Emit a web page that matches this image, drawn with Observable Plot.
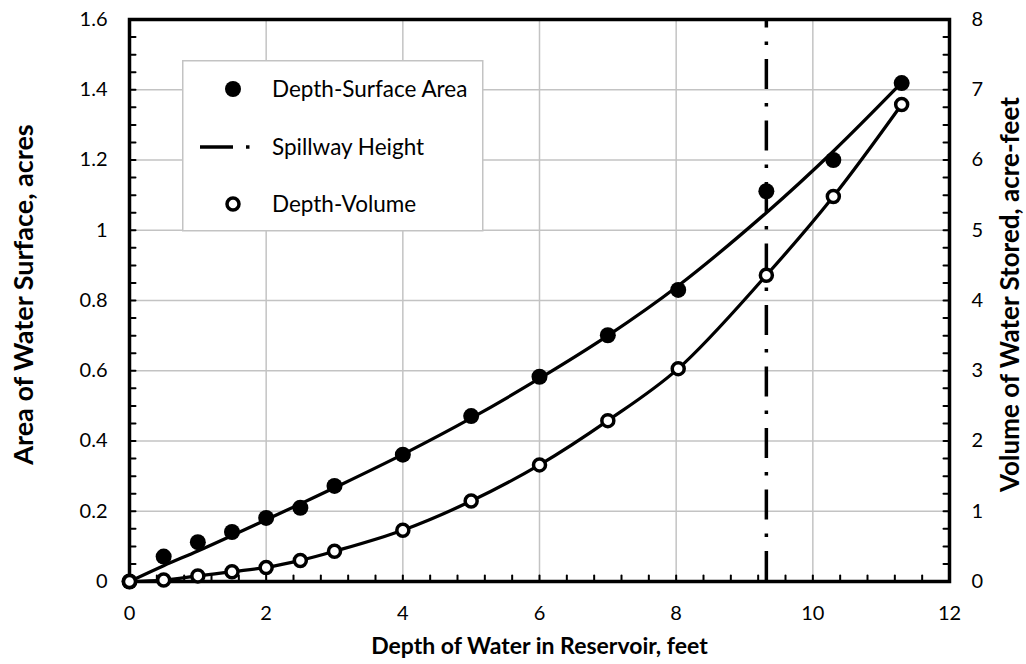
<!DOCTYPE html>
<html>
<head>
<meta charset="utf-8">
<script src="https://cdn.jsdelivr.net/npm/d3@7"></script>
<script src="https://cdn.jsdelivr.net/npm/@observablehq/plot@0.6"></script>
<style>
  body { margin: 0; background: #fff; }
  #wrap { position: relative; width: 1026px; height: 664px; font-family: Lato, "Open Sans", sans-serif; }
  #wrap svg { display: block; }
  #legend { position: absolute; left: 0; top: 0; pointer-events: none; }
</style>
</head>
<body>
<div id="wrap"></div>
<script>
// ---- data ----
const depth        = [0, 0.5, 1, 1.5, 2, 2.5, 3, 4, 5, 6, 7, 8.03, 9.32, 10.3, 11.3];
const surfaceArea  = [0, 0.071, 0.112, 0.141, 0.181, 0.21, 0.272, 0.361, 0.471, 0.583, 0.701, 0.83, 1.111, 1.2, 1.419];
const volumeStored = [0, 0.02, 0.08, 0.14, 0.2, 0.3, 0.43, 0.73, 1.145, 1.66, 2.29, 3.03, 4.36, 5.48, 6.79];
const areaTrend    = [0, 0.045, 0.087, 0.131, 0.176, 0.221, 0.267, 0.362, 0.465, 0.578, 0.7, 0.842, 1.05, 1.225, 1.42];
const spillwayDepth = [9.32];

const xTicks = [0, 2, 4, 6, 8, 10, 12];
const areaTicks = [0, 0.2, 0.4, 0.6, 0.8, 1, 1.2, 1.4, 1.6];
const volumeTicks = [0, 1, 2, 3, 4, 5, 6, 7, 8];

const xTitle = "Depth of Water in Reservoir, feet";
const yLeftTitle = "Area of Water Surface, acres";
const yRightTitle = "Volume of Water Stored, acre-feet";
const legendLabels = ["Depth-Surface Area", "Spillway Height", "Depth-Volume"];

// shared vertical scale: left axis 0–1.6 acres, right axis 0–8 acre-feet
const volToArea = 1.6 / 8;

const rows = depth.map((d, i) => ({
  depth: d, area: surfaceArea[i], vol: volumeStored[i], trend: areaTrend[i]
}));

const minorX = d3.range(0, 12.0001, 0.4);
const minorY = d3.range(0, 1.6001, 0.05);

const tickShape = { draw(ctx, l) { ctx.moveTo(0, 0); ctx.lineTo(0, -l); } };
const fmtArea = d => String(+d.toFixed(1));
const grid = { stroke: "#c3c3c3", strokeOpacity: 1, strokeWidth: 1.5 };
const FONT = "Lato, 'Open Sans', sans-serif";

const chart = Plot.plot({
  width: 1026,
  height: 664,
  marginLeft: 129,
  marginRight: 77,
  marginTop: 19,
  marginBottom: 83,
  style: { fontFamily: FONT, fontSize: "20px", color: "black", background: "white" },
  x: { domain: [0, 12] },
  y: { domain: [0, 1.6] },
  marks: [
    Plot.gridX(xTicks, grid),
    Plot.gridY(areaTicks, grid),
    Plot.axisX(xTicks, { tickSize: 0, tickPadding: 24, label: null, fontSize: 20 }),
    Plot.axisY(areaTicks, { anchor: "left", tickSize: 0, tickPadding: 22, tickFormat: fmtArea, label: null, fontSize: 20 }),
    Plot.axisY(volumeTicks.map(v => v * volToArea), {
      anchor: "right", tickSize: 0, tickPadding: 22,
      tickFormat: d => String(Math.round(d / volToArea)), label: null, fontSize: 20
    }),
    // inward minor ticks
    Plot.vector(minorX, { x: d => d, frameAnchor: "bottom", rotate: 0, length: 6, anchor: "start", shape: tickShape, stroke: "black", strokeWidth: 2 }),
    Plot.vector(minorY, { y: d => d, frameAnchor: "left", rotate: 90, length: 6, anchor: "start", shape: tickShape, stroke: "black", strokeWidth: 2 }),
    Plot.vector(minorY, { y: d => d, frameAnchor: "right", rotate: -90, length: 6, anchor: "start", shape: tickShape, stroke: "black", strokeWidth: 2 }),
    Plot.frame({ stroke: "black", strokeWidth: 3.5 }),
    // axis titles
    Plot.text([xTitle], { text: d => d, frameAnchor: "bottom", textAnchor: "middle", dy: 56, lineAnchor: "top", fontWeight: "bold", fontSize: 23 }),
    Plot.text([yLeftTitle], { text: d => d, frameAnchor: "left", textAnchor: "middle", rotate: -90, dx: -105, dy: -6, fontWeight: "bold", fontSize: 27 }),
    Plot.text([yRightTitle], { text: d => d, frameAnchor: "right", textAnchor: "middle", rotate: -90, dx: 61, dy: -6, fontWeight: "bold", fontSize: 26 }),
    // spillway height
    Plot.ruleX(spillwayDepth, { y1: 0, y2: 1.6, stroke: "black", strokeWidth: 3.5, strokeDasharray: "30,14,3.5,14" }),
    // fitted curves
    Plot.line(rows, { x: "depth", y: "trend", curve: "catmull-rom", stroke: "black", strokeWidth: 3.25 }),
    Plot.line(rows, { x: "depth", y: d => d.vol * volToArea, curve: "catmull-rom", stroke: "black", strokeWidth: 3.25 }),
    // observed points
    Plot.dot(rows, { x: "depth", y: "area", r: 8, fill: "black", stroke: "none" }),
    Plot.dot(rows, { x: "depth", y: d => d.vol * volToArea, r: 6, fill: "white", stroke: "black", strokeWidth: 3.5 })
  ]
});

const wrap = document.getElementById("wrap");
wrap.appendChild(chart);

// legend (overlay inside the plot area, upper left)
const lg = d3.select(wrap).append("svg")
  .attr("id", "legend").attr("width", 1026).attr("height", 664);
const box = lg.append("g").attr("transform", "translate(182,60)");
box.append("rect").attr("x", 0.75).attr("y", 0.75).attr("width", 300).attr("height", 170)
  .attr("fill", "white").attr("stroke", "#c3c3c3").attr("stroke-width", 1.5);
const itemY = [29, 87, 144];
const symX = 51, textX = 90;
// filled circle
box.append("circle").attr("cx", symX).attr("cy", itemY[0]).attr("r", 8).attr("fill", "black");
// dash-dot
box.append("line").attr("x1", symX - 33).attr("x2", symX).attr("y1", itemY[1]).attr("y2", itemY[1])
  .attr("stroke", "black").attr("stroke-width", 3.5);
box.append("rect").attr("x", symX + 13).attr("y", itemY[1] - 1.75).attr("width", 3.5).attr("height", 3.5).attr("fill", "black");
// open circle
box.append("circle").attr("cx", symX).attr("cy", itemY[2]).attr("r", 6).attr("fill", "white")
  .attr("stroke", "black").attr("stroke-width", 3.5);
legendLabels.forEach((t, i) => {
  box.append("text").attr("x", textX).attr("y", itemY[i] + 8)
    .attr("font-family", FONT).attr("font-size", 22.5).attr("fill", "black")
    .text(t);
});
</script>
</body>
</html>
